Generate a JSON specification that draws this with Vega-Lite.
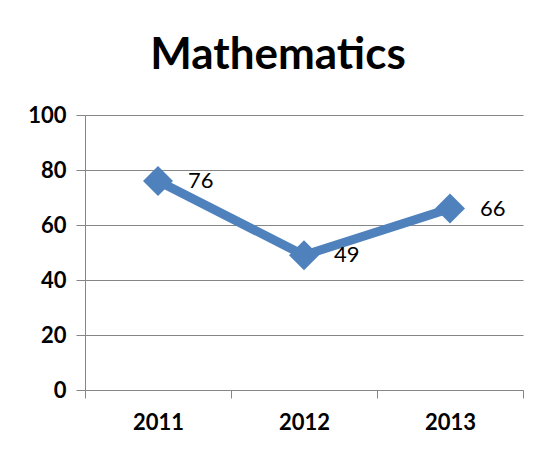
{
  "$schema": "https://vega.github.io/schema/vega-lite/v6.json",
  "width": 438,
  "height": 275,
  "autosize": {"type": "none"},
  "padding": {"left": 85, "top": 115, "right": 29, "bottom": 68},
  "background": "white",
  "title": {
    "text": "Mathematics",
    "font": "Lato",
    "fontSize": 44,
    "fontWeight": "bold",
    "color": "black",
    "anchor": "middle",
    "frame": "group",
    "dx": -26,
    "offset": 26
  },
  "data": {
    "values": [
      {"year": "2011", "score": 76},
      {"year": "2012", "score": 49},
      {"year": "2013", "score": 66}
    ]
  },
  "encoding": {
    "x": {
      "field": "year",
      "type": "ordinal",
      "bandPosition": 0.5,
      "scale": {"type": "band", "paddingInner": 0, "paddingOuter": 0},
      "axis": {
        "title": null,
        "labelAngle": 0,
        "labelFont": "Lato",
        "labelFontSize": 22,
        "labelFontWeight": "bold",
        "labelColor": "black",
        "labelPadding": 14,
        "tickSize": 8,
        "tickBand": "extent",
        "tickColor": "#868686",
        "domainColor": "#868686",
        "grid": false
      }
    },
    "y": {
      "field": "score",
      "type": "quantitative",
      "scale": {"domain": [0, 100]},
      "axis": {
        "title": null,
        "values": [0, 20, 40, 60, 80, 100],
        "labelFont": "Lato",
        "labelFontSize": 22,
        "labelFontWeight": "bold",
        "labelColor": "black",
        "labelPadding": 10,
        "tickSize": 9,
        "tickColor": "#868686",
        "domainColor": "#868686",
        "gridColor": "#868686",
        "gridOpacity": 1
      }
    }
  },
  "layer": [
    {
      "mark": {"type": "line", "color": "#4F81BD", "strokeWidth": 9, "point": {"shape": "diamond", "size": 900, "filled": true, "color": "#4F81BD", "opacity": 1}}
    },
    {
      "mark": {"type": "text", "align": "left", "baseline": "middle", "dx": 30, "font": "Lato", "fontSize": 22, "color": "black"},
      "encoding": {"text": {"field": "score", "type": "quantitative"}}
    }
  ],
  "config": {"view": {"stroke": null}}
}
